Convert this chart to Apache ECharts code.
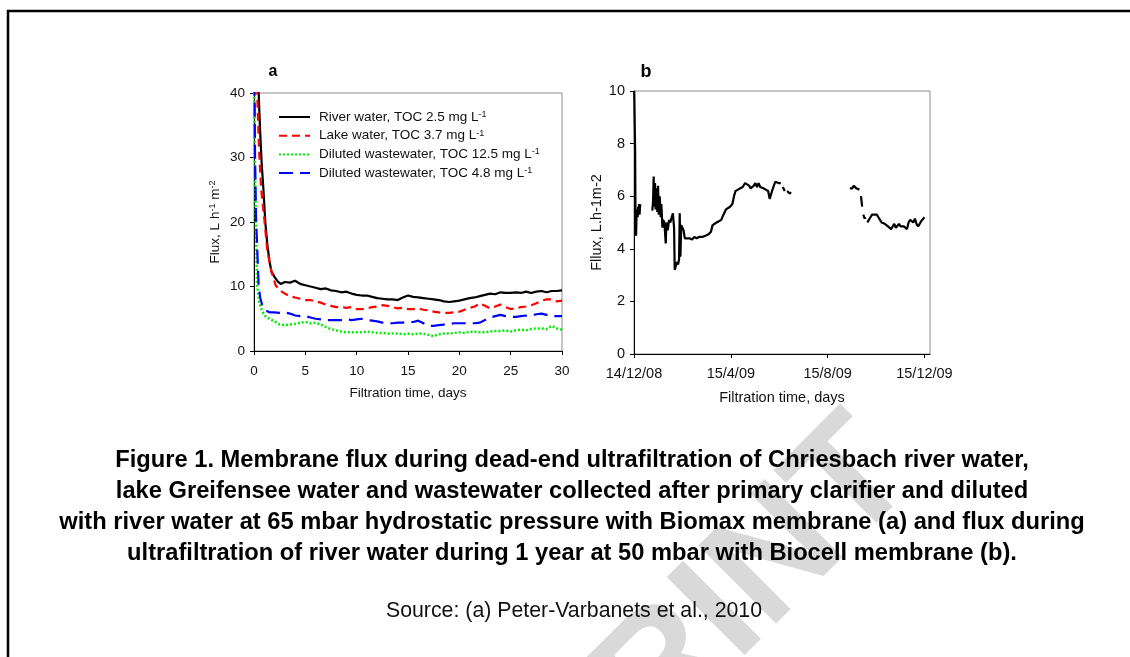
<!DOCTYPE html>
<html>
<head>
<meta charset="utf-8">
<title>Figure 1</title>
<script src="https://cdn.jsdelivr.net/npm/echarts@6/dist/echarts.min.js"></script>
<style>
html, body { margin: 0; padding: 0; background: #fff; }
#chart { width: 1130px; height: 657px; }
</style>
</head>
<body>
<div id="chart"></div>
<script>
// panel a: [day, flux L h-1 m-2]
const riverWater = [[0.35,45],[0.5,38],[0.6,34],[0.75,29],[0.9,25.5],[1.1,20],[1.3,16.5],[1.5,14],[1.7,12.3],[2.0,11.5],[2.3,10.8],[2.6,10.4],[3.0,10.7],
  [3.5,10.6],[4.0,10.9],[4.5,10.4],[5.0,10.2],[5.5,10.0],[6.0,9.8],[6.5,9.6],[7.0,9.7],[7.5,9.4],[8.0,9.3],[8.5,9.1],[9.0,9.2],[9.5,8.9],[10.0,8.7],
  [10.5,8.6],[11.0,8.6],[11.5,8.4],[12.0,8.2],[12.5,8.1],[13.0,8.0],[13.5,8.0],[14.0,7.9],[14.5,8.3],[15.0,8.6],[15.5,8.4],[16.0,8.3],[16.5,8.2],
  [17.0,8.1],[17.5,8.0],[18.0,7.9],[18.5,7.7],[19.0,7.6],[19.5,7.7],[20.0,7.8],[20.5,8.0],[21.0,8.2],[21.5,8.3],[22.0,8.5],[22.5,8.7],[23.0,8.9],
  [23.5,8.8],[24.0,9.1],[24.5,9.0],[25.0,9.0],[25.5,9.1],[26.0,9.0],[26.5,9.2],[27.0,9.0],[27.5,9.2],[28.0,9.3],[28.5,9.1],[29.0,9.3],[29.5,9.3],[30.0,9.4]];
const lakeWater = [[0.25,45],[0.35,38],[0.5,31],[0.7,25],[1.0,20.5],[1.3,15.5],[1.7,12.3],[2.1,10.2],[2.5,9.4],[3.0,8.9],[3.5,8.5],[4.0,8.3],[4.5,8.1],
  [5.0,7.9],[5.5,7.9],[6.0,7.7],[6.5,7.5],[7.0,7.2],[7.5,7.0],[8.0,6.8],[8.5,6.8],[9.0,6.7],[9.5,6.8],[10.0,6.5],[10.5,6.5],[11.0,6.6],[11.5,6.8],
  [12.0,6.9],[12.5,7.1],[13.0,7.0],[13.5,6.8],[14.0,6.6],[14.5,6.7],[15.0,6.5],[15.5,6.5],[16.0,6.6],[16.5,6.4],[17.0,6.3],[17.5,6.1],[18.0,6.0],
  [18.5,5.9],[19.0,5.9],[19.5,6.0],[20.0,6.1],[20.5,6.4],[21.0,6.7],[21.5,6.9],[22.0,7.4],[22.5,7.0],[23.0,6.6],[23.5,6.9],[24.0,7.2],[24.5,6.8],
  [25.0,6.5],[25.5,6.6],[26.0,6.8],[26.5,6.9],[27.0,7.1],[27.5,7.4],[28.0,7.8],[28.5,8.0],[29.0,8.0],[29.5,7.7],[30.0,7.8]];
const wasteHigh = [[0.02,45],[0.08,30],[0.15,22],[0.3,10.2],[0.5,7.6],[0.8,6.1],[1.1,5.4],[1.5,5.0],[2.0,4.6],[2.5,4.1],[3.0,4.0],[3.5,4.1],[4.0,4.2],
  [4.5,4.4],[5.0,4.5],[5.5,4.3],[6.0,4.4],[6.5,4.1],[7.0,3.7],[7.5,3.4],[8.0,3.2],[8.5,3.0],[9.0,2.9],[9.5,2.9],[10,2.9],[10.5,2.9],[11,3.0],
  [11.5,2.9],[12,2.8],[12.5,2.8],[13,2.7],[13.5,2.7],[14,2.7],[14.5,2.6],[15,2.7],[15.5,2.6],[16,2.7],[16.5,2.7],[17,2.5],[17.5,2.3],[18,2.6],
  [18.5,2.7],[19,2.7],[19.5,2.8],[20,2.9],[20.5,2.8],[21,3.0],[21.5,3.0],[22,2.9],[22.5,2.9],[23,3.0],[23.5,3.1],[24,3.1],[24.5,3.2],[25,3.0],
  [25.5,3.2],[26,3.3],[26.5,3.2],[27,3.4],[27.5,3.5],[28,3.5],[28.5,3.4],[29,3.9],[29.5,3.5],[30,3.3]];
const wasteLow = [[0.04,45],[0.1,30],[0.2,20.6],[0.45,10.2],[0.6,8.3],[0.8,7.1],[1.1,6.3],[1.5,6.0],[2.0,6.0],[2.5,5.9],[3.0,6.0],[3.5,5.8],[4.0,5.5],
  [4.5,5.4],[5.0,5.4],[5.5,5.2],[6.0,5.0],[6.5,4.9],[7.0,4.8],[7.5,4.8],[8,4.8],[8.5,4.8],[9,4.9],[9.5,4.8],[10,4.9],[10.5,5.0],[11,4.8],[11.5,4.7],
  [12,4.6],[12.5,4.4],[13,4.3],[13.5,4.3],[14,4.4],[14.5,4.4],[15,4.5],[15.5,4.5],[16,4.7],[16.5,4.3],[17,3.9],[17.5,3.9],[18,4.0],[18.5,4.1],
  [19,4.2],[19.5,4.3],[20,4.3],[20.5,4.3],[21,4.3],[21.5,4.3],[22,4.4],[22.5,4.8],[23,5.2],[23.5,5.4],[24,5.6],[24.5,5.4],[25,5.3],[25.5,5.3],
  [26,5.4],[26.5,5.5],[27,5.5],[27.5,5.7],[28,5.8],[28.5,5.6],[29,5.4],[29.5,5.4],[30,5.4]];
const seriesNames = ['River water, TOC 2.5 mg L', 'Lake water, TOC 3.7 mg L', 'Diluted wastewater, TOC 12.5 mg L', 'Diluted wastewater, TOC 4.8 mg L'];

// panel b: days since 14/12/08, '-' = no data
const yearFlux = [[0.3,10],[1.0,10],[1.4,7.8],[2.0,4.6],[2.6,4.5],[3.2,5.3],[3.8,5.5],[4.6,5.2],[5.2,5.6],[5.8,5.3],[6.4,5.7],[7.0,5.3],[7.6,5.6],[8.0,5.7],
  [9,'-'],
  [23.1,5.45],[24,5.8],[24.8,6.75],[25.6,5.6],[26.5,6.5],[27.3,5.5],[28.2,6.3],[29.4,5.4],[30.3,6.4],[31.2,5.3],[32.4,6.0],[33.6,5.2],[34.5,5.7],
  [35.8,4.8],[36.6,5.1],[38.3,5.0],[40,4.2],[40.8,5.0],[42.5,4.7],[44.2,5.1],[45.8,5.0],[47.5,5.2],[49,5.35],[50.5,4.8],[51.3,3.2],[52.6,3.15],
  [54.2,3.5],[55.5,3.4],[56.8,3.6],[57.6,5.35],[58.5,3.7],[59.5,4.9],[61,4.8],[62.5,4.7],[64,4.4],[66,4.35],[70,4.4],[73,4.35],[76,4.45],[79,4.4],
  [82,4.45],[86,4.45],[90,4.5],[94,4.55],[97,4.65],[99,4.9],[101,4.95],[104,5.0],[107,5.05],[110,5.1],[112,5.25],[114,5.3],[116,5.5],[118,5.55],
  [121,5.6],[124,5.7],[126,6.0],[128,6.2],[131,6.25],[134,6.3],[137,6.35],[140,6.5],[142,6.5],[145,6.4],[147,6.3],[149,6.25],[151,6.4],[153,6.5],
  [155,6.35],[157,6.5],[159,6.35],[161,6.4],[163,6.3],[166,6.25],[169,6.2],[171,5.9],[172.5,5.95],[174,6.2],[176,6.25],[178,6.55],[180,6.55],
  [182,6.5],[185,6.5],
  [186,'-'],[187.5,6.35],[190,6.2],[191,'-'],[193,6.2],[196,6.1],[198,6.15],
  [199,'-'],
  [272,6.3],[275,6.3],[277,6.4],[278.5,6.45],[280,6.3],[282.5,6.3],[284,6.25],[285,'-'],[286,6.0],[287.5,5.6],[288,'-'],[289,5.3],[290.5,5.15],
  [292,5.2],[293,'-'],[294,5.0],[296,5.1],[298,5.2],[300,5.3],[303,5.3],[306,5.3],[308,5.2],[310,5.1],[312,5.0],[314,5.0],[316,4.95],[318,4.9],
  [320,4.85],[322,4.9],[324,4.75],[326,4.85],[328,4.95],[330,4.8],[332,4.85],[334,4.95],[336,4.85],[338,4.9],[340,4.85],[342,4.8],[344,4.75],
  [346,5.0],[348,5.1],[350,5.15],[352,5.0],[354,5.15],[356,4.95],[358,4.85],[360,4.9],[362,5.05],[364,5.1],[366,5.2]];
const dateTickDays = [0, 122, 244, 366];
const dateTickLabels = ['14/12/08', '15/4/09', '15/8/09', '15/12/09'];

const captionLines = [
  'Figure 1. Membrane flux during dead-end ultrafiltration of Chriesbach river water,',
  'lake Greifensee water and wastewater collected after primary clarifier and diluted',
  'with river water at 65 mbar hydrostatic pressure with Biomax membrane (a) and flux during',
  'ultrafiltration of river water during 1 year at 50 mbar with Biocell membrane (b).'
];

const FONT = '"Liberation Sans", Arial, sans-serif';

let chart = echarts.init(document.getElementById('chart'), null, {renderer: 'canvas'});

function axisCommon(size) {
    return {
        axisLine: {show: true, lineStyle: {color: '#000', width: 1}},
        axisTick: {show: true, inside: false, length: 4, lineStyle: {color: '#000'}},
        splitLine: {show: false},
        axisLabel: {color: '#111', fontSize: size, fontFamily: FONT},
        nameTextStyle: {color: '#111', fontSize: size, fontFamily: FONT}
    };
}

chart.setOption({
    animation: false,
    backgroundColor: '#fff',
    textStyle: {fontFamily: FONT},
    grid: [
        {left: 254, top: 93, width: 308, height: 258, show: true, borderColor: '#8c8c8c', borderWidth: 1, outerBoundsMode: 'none'},
        {left: 634, top: 91, width: 296, height: 263, show: true, borderColor: '#8c8c8c', borderWidth: 1, outerBoundsMode: 'none'}
    ],
    legend: {
        left: 273, top: 105, orient: 'vertical',
        itemWidth: 31, itemHeight: 14, itemGap: 4.7, itemStyle: {opacity: 0},
        data: seriesNames,
        formatter: function (name) { return '{t|' + name + '}{s|-1}'; },
        textStyle: {
            color: '#111', fontFamily: FONT, padding: [0, 0, 0, 4],
            rich: {
                t: {fontSize: 13.5, fontFamily: FONT, color: '#111', lineHeight: 14},
                s: {fontSize: 9, fontFamily: FONT, color: '#111', verticalAlign: 'top', lineHeight: 8}
            }
        }
    },
    xAxis: [
        Object.assign(axisCommon(13.5), {
            gridIndex: 0, type: 'value', min: 0, max: 30, interval: 5,
            name: 'Filtration time, days', nameLocation: 'middle', nameGap: 35,
            axisLabel: {color: '#111', fontSize: 13.5, fontFamily: FONT, margin: 13}
        }),
        Object.assign(axisCommon(14.5), {
            gridIndex: 1, type: 'value', min: 0, max: 373,
            name: 'Filtration time, days', nameLocation: 'middle', nameGap: 36,
            axisTick: {show: true, length: 4, lineStyle: {color: '#000'}, customValues: dateTickDays},
            axisLabel: {
                color: '#111', fontSize: 14.5, fontFamily: FONT, margin: 12,
                customValues: dateTickDays,
                formatter: function (v) {
                    let i = dateTickDays.indexOf(v);
                    return i < 0 ? '' : dateTickLabels[i];
                }
            }
        })
    ],
    yAxis: [
        Object.assign(axisCommon(13.5), {
            gridIndex: 0, type: 'value', min: 0, max: 40, interval: 10,
            name: 'Flux, L h{s|-1} m{s|-2}', nameLocation: 'middle', nameGap: 32,
            nameTextStyle: {
                color: '#111', fontSize: 13.5, fontFamily: FONT,
                rich: {s: {fontSize: 9, fontFamily: FONT, color: '#111', verticalAlign: 'top', lineHeight: 9}}
            },
            axisLabel: {color: '#111', fontSize: 13.5, fontFamily: FONT, margin: 9}
        }),
        Object.assign(axisCommon(14.5), {
            gridIndex: 1, type: 'value', min: 0, max: 10, interval: 2,
            name: 'Fllux, L.h-1m-2', nameLocation: 'middle', nameGap: 17,
            axisLabel: {color: '#111', fontSize: 14.5, fontFamily: FONT, margin: 9}
        })
    ],
    series: [
        {name: seriesNames[0], type: 'line', xAxisIndex: 0, yAxisIndex: 0, data: riverWater, showSymbol: false, symbol: 'none',
         lineStyle: {color: '#000', width: 2.2, type: 'solid'}, itemStyle: {color: '#000'}, clip: true},
        {name: seriesNames[1], type: 'line', xAxisIndex: 0, yAxisIndex: 0, data: lakeWater, showSymbol: false, symbol: 'none',
         lineStyle: {color: '#ff0000', width: 2.2, type: [8, 5]}, itemStyle: {color: '#ff0000'}, clip: true},
        {name: seriesNames[2], type: 'line', xAxisIndex: 0, yAxisIndex: 0, data: wasteHigh, showSymbol: false, symbol: 'none',
         lineStyle: {color: '#00ee00', width: 2.5, type: [2, 2]}, itemStyle: {color: '#00ee00'}, clip: true},
        {name: seriesNames[3], type: 'line', xAxisIndex: 0, yAxisIndex: 0, data: wasteLow, showSymbol: false, symbol: 'none',
         lineStyle: {color: '#0000ff', width: 2.2, type: [14, 7]}, itemStyle: {color: '#0000ff'}, clip: true},
        {name: 'b', type: 'line', xAxisIndex: 1, yAxisIndex: 1, data: yearFlux, showSymbol: false, symbol: 'none',
         connectNulls: false, lineStyle: {color: '#000', width: 2.2}, clip: true}
    ],
    graphic: [
        {type: 'text', z: -10, x: 888, y: 449, rotation: Math.PI / 4,
         style: {text: 'PREPRINT', font: 'bold 160px ' + FONT, fill: '#d9d9d9', textAlign: 'right', textVerticalAlign: 'middle'}},
        {type: 'polyline', shape: {points: [[8, 657], [8, 11], [1130, 11]]}, style: {stroke: '#000', lineWidth: 2.5, fill: null}},
        {type: 'text', x: 273, y: 72, style: {text: 'a', font: 'bold 16px ' + FONT, fill: '#000', textAlign: 'center', textVerticalAlign: 'middle'}},
        {type: 'text', x: 646, y: 72, style: {text: 'b', font: 'bold 18px ' + FONT, fill: '#000', textAlign: 'center', textVerticalAlign: 'middle'}},
        {type: 'text', x: 572, y: 507, style: {text: captionLines.join('\n'), font: 'bold 23.7px ' + FONT, lineHeight: 31,
         fill: '#000', textAlign: 'center', textVerticalAlign: 'middle'}},
        {type: 'text', x: 574, y: 611, style: {text: 'Source: (a) Peter-Varbanets et al., 2010', font: '21.3px ' + FONT,
         fill: '#111', textAlign: 'center', textVerticalAlign: 'middle'}}
    ]
});
</script>
</body>
</html>
